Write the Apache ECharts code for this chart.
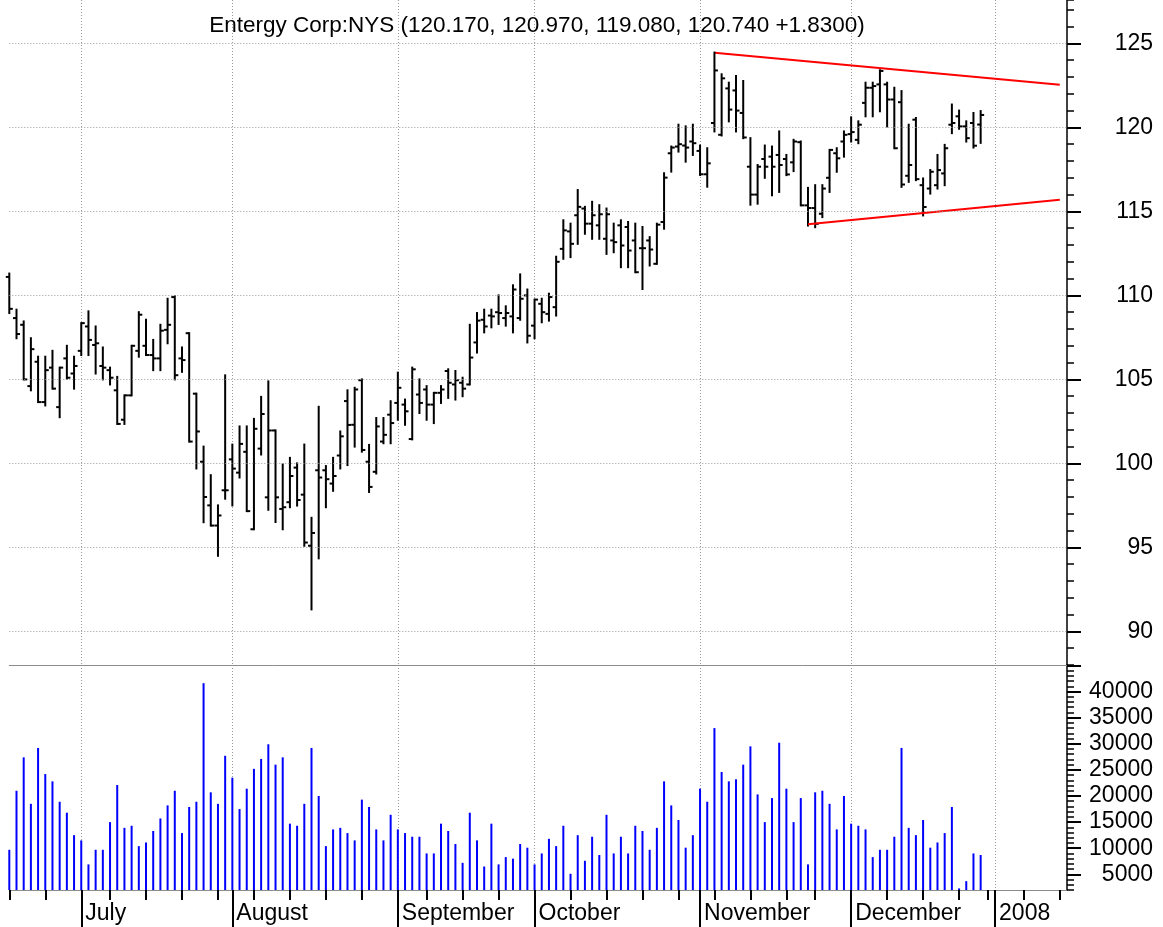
<!DOCTYPE html>
<html><head><meta charset="utf-8">
<script src="https://cdn.jsdelivr.net/npm/echarts@6/dist/echarts.min.js"></script>
<style>html,body{margin:0;padding:0;background:#fff}#c{width:1163px;height:927px}</style>
</head><body><div id="c"></div>
<script>
const dates = [
'2007-06-18','2007-06-19','2007-06-20','2007-06-21','2007-06-22','2007-06-25','2007-06-26','2007-06-27','2007-06-28','2007-06-29',
'2007-07-02','2007-07-03','2007-07-05','2007-07-06','2007-07-09','2007-07-10','2007-07-11','2007-07-12','2007-07-13','2007-07-16',
'2007-07-17','2007-07-18','2007-07-19','2007-07-20','2007-07-23','2007-07-24','2007-07-25','2007-07-26','2007-07-27','2007-07-30','2007-07-31',
'2007-08-01','2007-08-02','2007-08-03','2007-08-06','2007-08-07','2007-08-08','2007-08-09','2007-08-10','2007-08-13','2007-08-14',
'2007-08-15','2007-08-16','2007-08-17','2007-08-20','2007-08-21','2007-08-22','2007-08-23','2007-08-24','2007-08-27','2007-08-28',
'2007-08-29','2007-08-30','2007-08-31',
'2007-09-04','2007-09-05','2007-09-06','2007-09-07','2007-09-10','2007-09-11','2007-09-12','2007-09-13','2007-09-14','2007-09-17',
'2007-09-18','2007-09-19','2007-09-20','2007-09-21','2007-09-24','2007-09-25','2007-09-26','2007-09-27','2007-09-28',
'2007-10-01','2007-10-02','2007-10-03','2007-10-04','2007-10-05','2007-10-08','2007-10-09','2007-10-10','2007-10-11','2007-10-12',
'2007-10-15','2007-10-16','2007-10-17','2007-10-18','2007-10-19','2007-10-22','2007-10-23','2007-10-24','2007-10-25','2007-10-26',
'2007-10-29','2007-10-30','2007-10-31',
'2007-11-01','2007-11-02','2007-11-05','2007-11-06','2007-11-07','2007-11-08','2007-11-09','2007-11-12','2007-11-13','2007-11-14',
'2007-11-15','2007-11-16','2007-11-19','2007-11-20','2007-11-21','2007-11-23','2007-11-26','2007-11-27','2007-11-28','2007-11-29','2007-11-30',
'2007-12-03','2007-12-04','2007-12-05','2007-12-06','2007-12-07','2007-12-10','2007-12-11','2007-12-12','2007-12-13','2007-12-14',
'2007-12-17','2007-12-18','2007-12-19','2007-12-20','2007-12-21','2007-12-24','2007-12-26','2007-12-27','2007-12-28','2007-12-31',
'2008-01-01','2008-01-02','2008-01-03','2008-01-04','2008-01-07','2008-01-08','2008-01-09','2008-01-10','2008-01-11','2008-01-14','2008-01-15'
];

const openP = [
111.1,108.65,108.25,104.6,106.05,103.65,105.7,103.35,106.25,105.35,
106.7,108.15,107.05,105.8,105.55,104.35,102.6,104.05,106.7,107.0,
106.45,106.25,107.95,109.9,106.25,107.75,104.15,100.1,97.5,96.3,
98.4,100.24,99.45,100.69,96.08,100.88,97.98,101.96,97.29,97.69,
99.75,98.14,95.1,99.59,99.59,98.8,100.47,103.71,102.3,104.95,
100.1,99.5,101.3,102.9,103.6,103.5,101.45,104.1,104.4,103.5,
104.2,105.5,104.7,104.8,104.7,107.2,108.55,108.8,109.0,108.65,
108.75,108.65,110.0,108.2,109.5,108.9,109.3,112.77,113.81,114.77,
115.17,114.27,114.17,113.37,113.27,114.17,114.07,113.27,112.81,113.27,
111.88,114.37,118.46,118.86,118.92,119.16,118.6,117.21,120.26,119.56,
122.32,122.2,120.86,117.66,116.0,118.12,118.26,118.36,118.12,117.92,
119.12,115.36,115.2,114.86,117.0,118.46,119.16,119.6,119.26,121.46,
122.36,122.56,122.56,121.66,121.5,117.12,120.46,116.56,116.36,116.56,
117.26,120.16,120.66,120.06,120.26,120.17
];
const highP = [
111.3,109.15,108.45,107.45,106.35,106.35,106.7,105.7,107.0,106.35,
108.35,109.05,108.15,106.9,105.7,105.15,104.05,107.0,109.0,108.55,
107.35,108.25,109.8,109.95,106.9,107.75,104.15,101.0,99.3,97.5,
105.24,101.12,102.2,102.2,102.65,103.96,104.88,101.96,99.94,100.33,
100.0,101.12,96.76,103.37,99.84,100.33,101.9,104.35,104.5,105.0,
101.1,102.7,102.7,103.7,105.4,103.8,105.7,105.0,104.6,104.2,
104.6,105.6,105.5,105.1,108.25,108.95,109.15,109.15,110.0,109.35,
110.6,111.25,110.35,109.75,109.8,110.1,112.3,114.47,114.27,116.27,
115.27,115.57,115.37,115.17,114.27,114.47,114.37,114.27,114.07,113.47,
114.27,117.27,118.86,120.16,120.06,120.16,118.92,118.76,124.45,123.16,
122.66,123.06,122.76,119.36,117.76,118.92,118.86,119.76,118.36,119.26,
119.16,116.4,116.56,116.56,118.66,118.76,119.76,120.6,120.36,122.66,
122.66,123.4,122.66,122.36,122.16,120.16,120.56,116.96,117.46,118.36,
118.96,121.36,121.0,120.36,120.86,120.97
];
const lowP = [
108.95,107.45,105.0,104.35,103.65,103.45,104.45,102.75,105.05,104.45,
106.45,106.45,105.35,105.0,104.7,102.35,102.35,104.05,106.35,106.45,
105.55,105.55,107.15,105.0,105.45,101.3,99.7,96.5,96.3,94.5,
97.9,97.5,99.16,97.16,96.08,100.53,97.24,96.51,96.08,97.39,
97.49,95.1,91.31,94.35,97.39,98.37,99.7,99.9,101.0,100.7,
98.3,99.4,101.2,101.2,102.6,102.3,101.43,103.0,102.6,102.4,
103.6,103.9,103.8,104.0,104.7,106.6,107.8,108.1,108.3,108.2,
107.8,108.55,107.2,107.45,108.4,108.5,108.8,112.18,112.28,113.07,
113.67,113.37,113.37,112.47,112.57,111.68,111.68,111.38,110.38,111.78,
111.88,113.97,117.37,118.56,117.96,118.36,117.17,116.47,119.76,119.52,
120.36,119.76,119.36,115.4,115.46,117.0,115.96,116.16,117.16,117.4,
115.36,114.16,114.06,114.66,116.16,117.36,118.26,119.16,119.06,120.66,
120.66,120.96,120.06,118.76,116.46,116.76,116.86,114.76,116.06,116.36,
116.56,119.66,119.92,119.16,118.8,119.08
];
const closeP = [
109.2,107.7,105.0,106.8,103.65,105.55,104.45,105.7,105.1,105.8,
108.35,107.35,107.15,105.7,105.1,102.35,104.05,107.0,108.85,106.45,
106.25,107.9,108.25,105.25,106.15,101.3,101.9,98.0,96.3,96.9,
98.4,99.69,101.16,97.16,102.06,102.94,101.96,97.98,97.39,99.25,
97.82,95.29,95.86,99.16,99.06,99.25,101.61,102.29,104.4,100.8,
98.6,102.2,101.7,102.4,104.5,103.1,105.6,103.6,103.5,104.2,
104.4,104.8,104.95,104.45,106.3,108.5,108.15,108.75,108.95,108.95,
110.35,109.8,107.6,109.75,109.0,109.9,112.0,113.87,113.07,115.27,
114.27,114.77,114.83,114.83,113.17,112.97,112.67,111.38,112.81,112.73,
114.21,117.01,118.8,119.0,118.8,119.06,117.21,117.86,123.39,122.92,
121.06,121.0,119.4,116.0,117.66,117.66,117.66,117.76,117.2,119.16,
115.36,115.2,114.26,116.36,118.66,118.16,119.56,119.72,120.16,122.36,
122.46,123.36,121.66,118.76,116.6,117.76,116.92,115.26,117.36,117.46,
118.76,120.26,120.06,119.36,118.91,120.74
];
const volume = [
9700,21000,27400,18500,29200,24200,22800,18900,16800,12500,
11500,6900,9700,9700,15000,22100,13900,14300,10400,11100,
13300,15700,18200,21000,12900,17900,18900,41600,20700,18500,
27700,23500,17500,21400,25200,27100,29900,26000,27400,14700,
14300,18500,29200,20000,10400,13600,13900,12900,11500,19300,
17900,13600,11500,16400,13600,12900,12200,12200,9000,9000,
14700,13300,10800,7200,16800,11500,6500,14700,6900,8300,
8000,10800,10100,6900,9000,11800,10400,14300,5100,12500,
7600,12200,8700,16400,9000,12200,9000,14300,13300,9700,
13900,22800,18200,15400,10100,12500,21400,18900,33000,24600,
22800,23200,26000,29500,20300,15000,19600,30200,21400,15000,
19600,6900,20700,21000,18500,13600,20000,14700,14300,13600,
8300,9700,9700,12200,29200,13900,12500,15400,10100,11100,
12900,17900,2300,3700,9000,8700
];
const priceTicks = [90, 95, 100, 105, 110, 115, 120, 125];
const volumeTicks = [5000, 10000, 15000, 20000, 25000, 30000, 35000, 40000];
const volumeMajorTicks = [5000, 10000, 15000, 20000, 25000, 30000, 35000, 40000, 45000];
const upperTrend = [[98, 124.45], [146, 122.54]];
const lowerTrend = [[111, 114.23], [146, 115.70]];
const monthNames = ['January','February','March','April','May','June','July','August','September','October','November','December'];
const titleText = 'Entergy Corp:NYS (120.170, 120.970, 119.080, 120.740 +1.8300)';

const FONT = '"Liberation Sans", Arial, sans-serif';
const GL = 9.3, GR = 96;
const isMonthStart = dates.map((d, i) => i > 0 && d.slice(5, 7) !== dates[i - 1].slice(5, 7));
const isTick = dates.map((d, i) => isMonthStart[i] || new Date(d + 'T00:00:00Z').getUTCDay() === 1);
const ohlc = openP.map((o, i) => [i, o, highP[i], lowP[i], closeP[i]]);
const dotted = { color: '#9a9a9a', width: 1, type: [1, 2] };

const chart = echarts.init(document.getElementById('c'), null, { renderer: 'canvas' });
const hiddenX = (gi) => ({ type: 'category', gridIndex: gi, data: dates, boundaryGap: false, show: false });

chart.setOption({
  animation: false,
  backgroundColor: '#fff',
  title: {
    text: titleText, left: 532, top: 9, textAlign: 'center',
    textStyle: { fontFamily: FONT, fontSize: 22.5, fontWeight: 'normal', color: '#000' }
  },
  grid: [
    { left: GL, right: GR, top: 0, height: 665 },
    { left: GL, right: GR, top: 665, height: 225 },
    { left: GL, right: GR, top: 890, height: 37 },
    { left: GL, right: GR, top: 0, height: 665 },
    { left: GL, right: GR, top: 665, height: 225 }
  ],
  xAxis: [
    { type: 'category', gridIndex: 0, data: dates, boundaryGap: false,
      axisLine: { show: true, lineStyle: { color: '#8c8c8c', width: 1 } },
      axisTick: { show: false }, axisLabel: { show: false },
      splitLine: { show: true, interval: (i) => isMonthStart[i], lineStyle: dotted } },
    { type: 'category', gridIndex: 1, data: dates, boundaryGap: false,
      axisLine: { show: true, lineStyle: { color: '#8c8c8c', width: 1 } },
      axisTick: { show: true, interval: (i) => isTick[i], length: 10, lineStyle: { color: '#000', width: 2 } },
      axisLabel: { show: true, interval: (i) => isMonthStart[i], align: 'left', margin: 12, padding: [0, 0, 0, 4],
        fontFamily: FONT, fontSize: 23, color: '#000',
        formatter: (v) => { const m = +v.slice(5, 7) - 1; return m === 0 ? v.slice(0, 4) : monthNames[m]; } },
      splitLine: { show: true, interval: (i) => isMonthStart[i], lineStyle: dotted } },
    { type: 'category', gridIndex: 2, data: dates, boundaryGap: false,
      axisLine: { show: false }, axisTick: { show: false }, axisLabel: { show: false },
      splitLine: { show: true, interval: (i) => isMonthStart[i], lineStyle: { color: '#000', width: 2, type: 'solid' } } },
    hiddenX(3), hiddenX(4)
  ],
  yAxis: [
    { type: 'value', gridIndex: 0, position: 'right', min: 88, max: 127.583, interval: 1,
      axisLine: { show: true, lineStyle: { color: '#000', width: 1.5 } },
      axisTick: { show: true, length: 7, lineStyle: { color: '#000', width: 1.5 } },
      axisLabel: { show: false }, splitLine: { show: false } },
    { type: 'value', gridIndex: 1, position: 'right', min: 2000, max: 45079, interval: 1000,
      axisLine: { show: true, lineStyle: { color: '#000', width: 1.5 } },
      axisTick: { show: true, length: 7, lineStyle: { color: '#000', width: 1.5 } },
      axisLabel: { show: false }, splitLine: { show: false } },
    { type: 'value', gridIndex: 2, show: false, min: 0, max: 1 },
    { type: 'value', gridIndex: 3, position: 'right', min: 88, max: 127.583,
      axisLine: { show: false },
      axisTick: { show: true, customValues: priceTicks, length: 14, lineStyle: { color: '#000', width: 2 } },
      axisLabel: { show: true, customValues: priceTicks, align: 'right', margin: 86,
        fontFamily: FONT, fontSize: 23, color: '#000', formatter: (v) => String(v) },
      splitLine: { show: false } },
    { type: 'value', gridIndex: 4, position: 'right', min: 2000, max: 45079,
      axisLine: { show: false },
      axisTick: { show: true, customValues: volumeMajorTicks, length: 14, lineStyle: { color: '#000', width: 2 } },
      axisLabel: { show: true, customValues: volumeTicks, align: 'right', margin: 86, padding: [4, 0, 0, 0],
        fontFamily: FONT, fontSize: 23, color: '#000', formatter: (v) => String(v) },
      splitLine: { show: false } }
  ],
  series: [
    { type: 'line', name: 'upper', xAxisIndex: 0, yAxisIndex: 0, data: upperTrend, z: 1,
      symbol: 'none', lineStyle: { color: '#ff0000', width: 2 },
      markLine: { silent: true, symbol: ['none', 'none'], label: { show: false },
        lineStyle: dotted, animation: false,
        data: priceTicks.map(v => ({ yAxis: v })) } },
    { type: 'line', name: 'lower', xAxisIndex: 0, yAxisIndex: 0, data: lowerTrend, z: 3,
      symbol: 'none', lineStyle: { color: '#ff0000', width: 2 } },
    { type: 'custom', name: 'price', xAxisIndex: 0, yAxisIndex: 0, data: ohlc, z: 2,
      renderItem: (params, api) => {
        const x = api.value(0);
        const o = api.coord([x, api.value(1)]);
        const h = api.coord([x, api.value(2)]);
        const l = api.coord([x, api.value(3)]);
        const c = api.coord([x, api.value(4)]);
        const st = { stroke: '#000', lineWidth: 2 };
        return { type: 'group', children: [
          { type: 'line', shape: { x1: h[0], y1: h[1] - 1, x2: l[0], y2: l[1] + 1 }, style: st },
          { type: 'line', shape: { x1: o[0] - 3.5, y1: o[1], x2: o[0], y2: o[1] }, style: st },
          { type: 'line', shape: { x1: c[0], y1: c[1], x2: c[0] + 3.5, y2: c[1] }, style: st }
        ] };
      } },
    { type: 'bar', name: 'volume', xAxisIndex: 1, yAxisIndex: 1, data: volume, barWidth: 2,
      itemStyle: { color: '#0000ff' } }
  ]
});
</script></body></html>
